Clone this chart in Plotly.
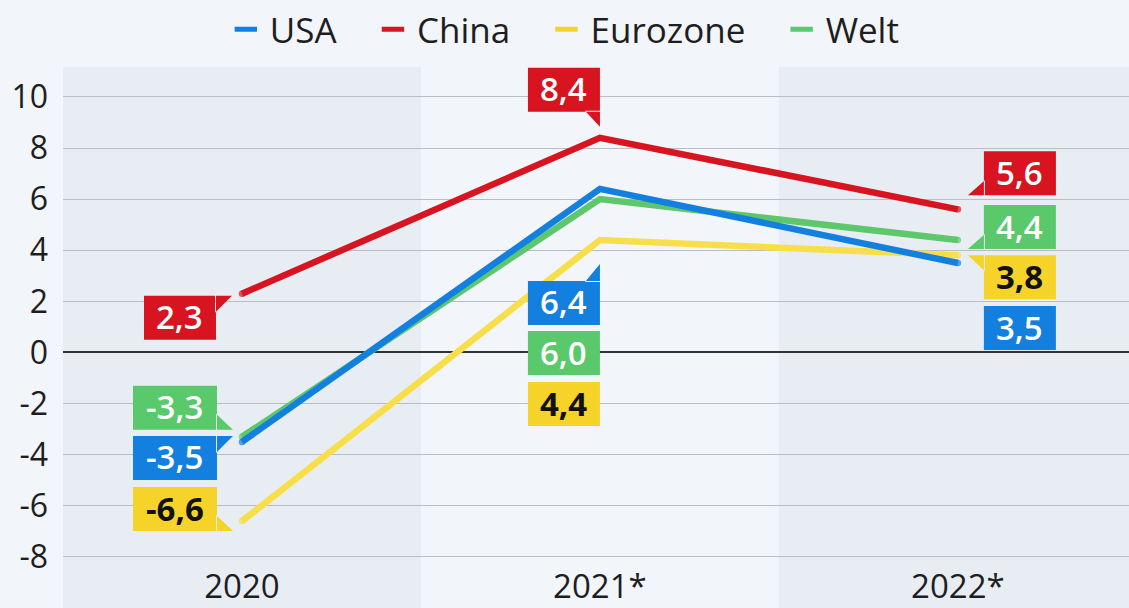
import plotly.graph_objects as go

# ---------------- data ----------------
categories = ["2020", "2021*", "2022*"]
usa = [-3.5, 6.4, 3.5]
china = [2.3, 8.4, 5.6]
eurozone = [-6.6, 4.4, 3.8]
welt = [-3.3, 6.0, 4.4]
series_names = ["USA", "China", "Eurozone", "Welt"]
y_tick_values = [-8, -6, -4, -2, 0, 2, 4, 6, 8, 10]
y_tick_labels = ["-8", "-6", "-4", "-2", "0", "2", "4", "6", "8", "10"]

# ---------------- styles ----------------
FONT = "Open Sans, Noto Sans, DejaVu Sans, sans-serif"
PAGE_BG = "#f2f5f9"
BAND_BG = "#e8edf4"
LINE_W = 6.5
line_colors = {"USA": "#1380e0", "China": "#d7141f", "Eurozone": "#f8df4a", "Welt": "#5dc86b"}
box_colors = {"USA": "#1380e0", "China": "#d7141f", "Eurozone": "#f5d328", "Welt": "#5ac96b"}
text_colors = {"USA": "white", "China": "white", "Eurozone": "#111111", "Welt": "white"}
text_weights = {"USA": 600, "China": 600, "Eurozone": "bold", "Welt": 600}

values = {"USA": usa, "China": china, "Eurozone": eurozone, "Welt": welt}

# label placement (pixel offsets of box centre from data point, screen y down) and tail type
label_layout = {
    ("China", 0): (-62, 24, "tr_right"),
    ("Welt", 0): (-67, -29, "br_right"),
    ("USA", 0): (-67, 16, "tr_right"),
    ("Eurozone", 0): (-67, -12, "br_right"),
    ("China", 1): (-36, -48, "br_down"),
    ("USA", 1): (-36, 114, "tr_up"),
    ("Welt", 1): (-36, 154, None),
    ("Eurozone", 1): (-36, 164, None),
    ("China", 2): (62, -36, "bl_left"),
    ("Welt", 2): (62, -13, "bl_left"),
    ("Eurozone", 2): (62, 22, "tl_left"),
    ("USA", 2): (62, 65, None),
}

BOX_H = 44


def fmt(v):
    return f"{v:.1f}".replace(".", ",")


def box_path(dx, dy, w, h, tail):
    # screen coordinates (y down) relative to the data point
    L, R = dx - w / 2, dx + w / 2
    T, B = dy - h / 2, dy + h / 2
    pts = [(L, T), (R, T), (R, B), (L, B)]
    tri = None
    if tail == "tr_right":
        tri = [(R - 1, T), (R + 16, T), (R - 1, T + 17)]
    elif tail == "br_right":
        tri = [(R - 1, B - 16), (R + 16, B), (R - 1, B)]
    elif tail == "br_down":
        tri = [(R - 15, B - 1), (R, B - 1), (R, B + 15)]
    elif tail == "tr_up":
        tri = [(R - 15, T + 1), (R, T - 17), (R, T + 1)]
    elif tail == "bl_left":
        tri = [(L - 16, B), (L + 1, B), (L + 1, B - 15)]
    elif tail == "tl_left":
        tri = [(L - 16, T), (L + 1, T), (L + 1, T + 16)]

    def seg(p):
        return "M " + " L ".join(f"{x:.1f},{-y:.1f}" for x, y in p) + " Z"

    s = seg(pts)
    if tri:
        s += " " + seg(tri)
    return s


fig = go.Figure()

# background bands
shapes = []
for i, _ in enumerate(categories):
    if i % 2 == 0:
        shapes.append(dict(type="rect", xref="x", yref="paper", x0=i - 0.5, x1=i + 0.5,
                           y0=0, y1=1, fillcolor=BAND_BG, line_width=0, layer="below"))

# lines (draw order so blue sits over green, red on top); round end caps via markers
draw_order = ["Welt", "Eurozone", "USA", "China"]
n = len(categories)
cap_sizes = [LINE_W if (k == 0 or k == n - 1) else 0 for k in range(n)]
for name in draw_order:
    fig.add_trace(go.Scatter(
        x=categories, y=values[name], mode="lines+markers", name=name,
        line=dict(color=line_colors[name], width=LINE_W),
        marker=dict(size=cap_sizes, color=line_colors[name], line_width=0),
        showlegend=False, hoverinfo="skip",
    ))

# legend-only traces with short bar symbols
NBSP = "\u00a0"
for rank, name in enumerate(series_names):
    label = name + (NBSP * 3 if rank < len(series_names) - 1 else "")
    fig.add_trace(go.Scatter(
        x=[None], y=[None], mode="markers", name=label, legendrank=rank,
        marker=dict(symbol="line-ew", size=16, line=dict(color=box_colors[name], width=10)),
    ))

annotations = []
for name in series_names:
    for i, v in enumerate(values[name]):
        dx, dy, tail = label_layout[(name, i)]
        text = fmt(v)
        w = 84 if v < 0 else 72
        shapes.append(dict(
            type="path", xref="x", yref="y", xsizemode="pixel", ysizemode="pixel",
            xanchor=i, yanchor=v, path=box_path(dx, dy, w, BOX_H, tail),
            fillcolor=box_colors[name], line_width=0, layer="above",
        ))
        annotations.append(dict(
            x=i, y=v, xref="x", yref="y", text=text, showarrow=False,
            xshift=dx, yshift=-dy + 1, xanchor="center", yanchor="middle",
            font=dict(family=FONT, size=33, color=text_colors[name], weight=text_weights[name]),
        ))

fig.update_layout(
    width=1129, height=608,
    margin=dict(l=63, r=0, t=66, b=0),
    paper_bgcolor=PAGE_BG, plot_bgcolor=PAGE_BG,
    font=dict(family=FONT, size=32, color="#1e1e1e"),
    shapes=shapes, annotations=annotations,
    legend=dict(orientation="h", x=0.149, xanchor="left", y=1.07, yanchor="middle",
                bgcolor="rgba(0,0,0,0)", font=dict(size=35, color="#1e1e1e"),
                itemwidth=38, traceorder="normal"),
    xaxis=dict(type="category", range=[-0.5, 2.478], showgrid=False, zeroline=False,
               showline=False, ticks="", ticklabelposition="inside",
               tickfont=dict(size=33, color="#1e1e1e"), fixedrange=True),
    yaxis=dict(range=[-10.0, 11.17], tickvals=y_tick_values, ticktext=y_tick_labels,
               showgrid=True, gridcolor="#b8bcc3", gridwidth=1.2,
               zeroline=True, zerolinecolor="#333333", zerolinewidth=1.6,
               ticks="", ticklabelstandoff=14, tickfont=dict(size=32, color="#1e1e1e"),
               fixedrange=True),
)

fig.write_html("out.html", config={"displayModeBar": False},
               post_script="document.body.style.margin='0';")
